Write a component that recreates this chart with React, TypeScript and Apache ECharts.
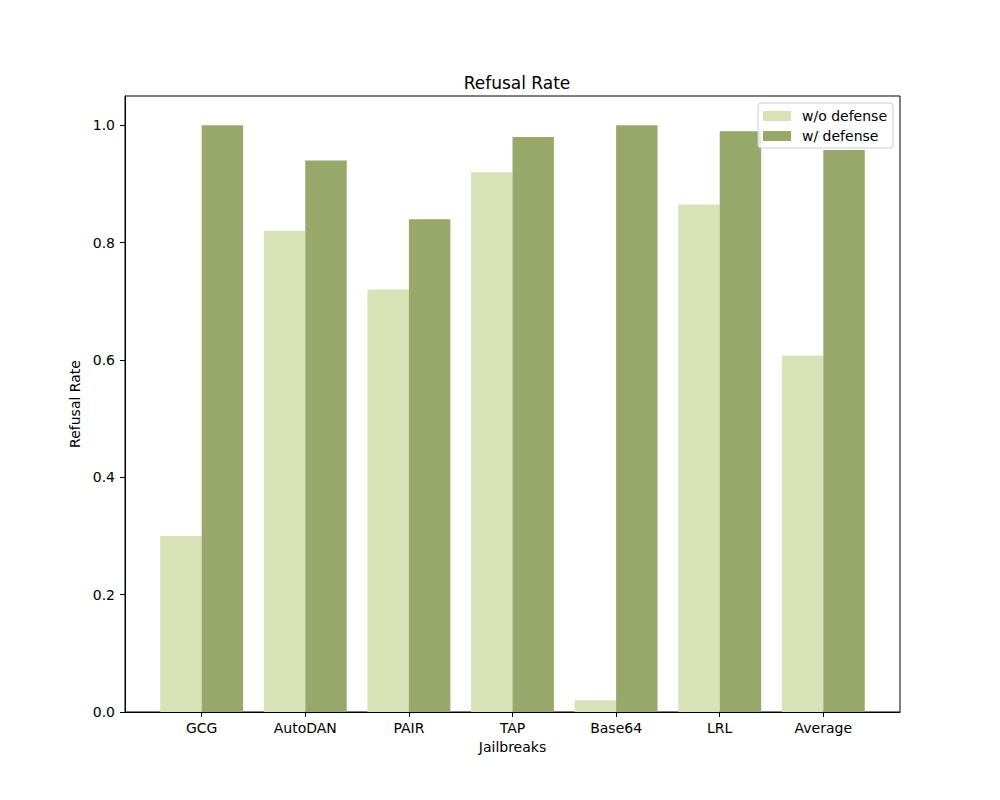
import React, { useEffect, useRef } from "react";
import * as echarts from "echarts";

const categories = ["GCG", "AutoDAN", "PAIR", "TAP", "Base64", "LRL", "Average"];
const withoutDefense = [0.3, 0.82, 0.72, 0.92, 0.02, 0.865, 0.6075];
const withDefense = [1.0, 0.94, 0.84, 0.98, 1.0, 0.99, 0.958];
const yTicks = [0, 0.2, 0.4, 0.6, 0.8, 1.0];
const seriesNames = ["w/o defense", "w/ defense"];
const colors = ["#d7e3b7", "#98a86a"];

const FONT = "DejaVu Sans";
const BAR_W = 0.4;

function makeRender(offset: number, color: string) {
  return (params: any, api: any) => {
    const x = api.value(0) as number;
    const y = api.value(1) as number;
    const p0 = api.coord([x + offset, 0]);
    const p1 = api.coord([x + offset + BAR_W, y]);
    return {
      type: "rect",
      shape: { x: p0[0], y: p1[1], width: p1[0] - p0[0], height: p0[1] - p1[1] },
      style: { fill: color },
    };
  };
}

export default function App() {
  const ref = useRef<HTMLDivElement>(null);
  useEffect(() => {
    if (!ref.current) return;
    const chart = echarts.init(ref.current, null, { renderer: "svg" });
    const idx = categories.map((_, i) => i);
    chart.setOption({
      animation: false,
      backgroundColor: "#ffffff",
      textStyle: { fontFamily: FONT },
      title: {
        text: "Refusal Rate",
        left: 512,
        textAlign: "center",
        top: 69,
        textStyle: { fontFamily: FONT, fontSize: 17, fontWeight: "normal", color: "#000" },
      },
      legend: {
        orient: "vertical",
        right: 107,
        top: 103,
        data: seriesNames,
        icon: "rect",
        itemWidth: 28,
        itemHeight: 10,
        itemGap: 6,
        padding: [6, 6, 5, 5],
        backgroundColor: "rgba(255,255,255,0.8)",
        borderColor: "#cccccc",
        borderWidth: 1,
        borderRadius: 3,
        textStyle: { fontFamily: FONT, fontSize: 14, color: "#000", padding: [0, 0, 0, 6] },
        itemStyle: { borderWidth: 0 },
      },
      grid: {
        left: 125,
        right: 100,
        top: 96,
        bottom: 88,
        show: true,
        borderColor: "#000",
        borderWidth: 1,
        backgroundColor: "transparent",
      },
      xAxis: {
        type: "value",
        min: -0.74,
        max: 6.74,
        name: "Jailbreaks",
        nameLocation: "middle",
        nameGap: 28,
        nameTextStyle: { fontFamily: FONT, fontSize: 14, color: "#000", verticalAlign: "top" },
        splitLine: { show: false },
        axisLine: { show: true, onZero: false, lineStyle: { color: "#000", width: 1 } },
        axisTick: { show: true, customValues: idx, length: 5, lineStyle: { color: "#000" } },
        axisLabel: {
          customValues: idx,
          formatter: (v: number) => categories[Math.round(v)] ?? "",
          fontFamily: FONT,
          fontSize: 14,
          color: "#000",
          margin: 9,
        },
      },
      yAxis: {
        type: "value",
        min: 0,
        max: 1.05,
        name: "Refusal Rate",
        nameLocation: "middle",
        nameGap: 38,
        nameTextStyle: { fontFamily: FONT, fontSize: 14, color: "#000" },
        splitLine: { show: false },
        axisLine: { show: true, onZero: false, lineStyle: { color: "#000", width: 1 } },
        axisTick: { show: true, customValues: yTicks, length: 5, lineStyle: { color: "#000" } },
        axisLabel: {
          customValues: yTicks,
          formatter: (v: number) => v.toFixed(1),
          fontFamily: FONT,
          fontSize: 14,
          color: "#000",
          margin: 10,
        },
      },
      series: [
        {
          name: seriesNames[0],
          type: "custom",
          renderItem: makeRender(-BAR_W, colors[0]),
          itemStyle: { color: colors[0] },
          encode: { x: 0, y: 1 },
          data: idx.map((i) => [i, withoutDefense[i]]),
          z: 1,
        },
        {
          name: seriesNames[1],
          type: "custom",
          renderItem: makeRender(0, colors[1]),
          itemStyle: { color: colors[1] },
          encode: { x: 0, y: 1 },
          data: idx.map((i) => [i, withDefense[i]]),
          z: 1,
        },
      ],
    });
    return () => chart.dispose();
  }, []);
  return (
    <div
      ref={ref}
      style={{ position: "fixed", left: 0, top: 0, width: 1000, height: 800 }}
    />
  );
}
